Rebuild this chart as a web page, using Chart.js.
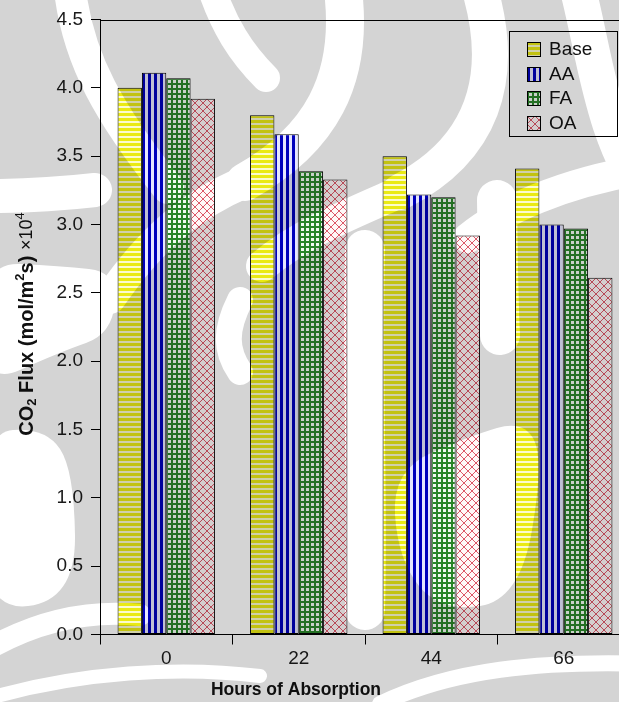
<!DOCTYPE html>
<html>
<head>
<meta charset="utf-8">
<title>CO2 Flux vs Hours of Absorption</title>
<script src="https://cdn.jsdelivr.net/npm/chart.js@4.4.1/dist/chart.umd.min.js"></script>
<style>
  html, body { margin: 0; padding: 0; overflow: hidden; background: #fff; }
  #wrap { position: relative; width: 640px; height: 702px; }
</style>
</head>
<body>
<div id="wrap"><canvas id="chart" width="640" height="702"></canvas></div>
<script>
// ---- data ----
const hours = ['0', '22', '44', '66'];
const seriesNames = ['Base', 'AA', 'FA', 'OA'];
const baseFlux = [4.00, 3.80, 3.50, 3.41];
const aaFlux   = [4.11, 3.66, 3.22, 3.00];
const faFlux   = [4.07, 3.39, 3.20, 2.97];
const oaFlux   = [3.92, 3.33, 2.92, 2.61];
const yTickValues = [0.0, 0.5, 1.0, 1.5, 2.0, 2.5, 3.0, 3.5, 4.0, 4.5];

// ---- fill patterns ----
function tile(w, h, paint) {
  const c = document.createElement('canvas');
  c.width = w; c.height = h;
  paint(c.getContext('2d'), w, h);
  return c;
}
const tiles = {
  Base: tile(6, 5, (g, w, h) => {
    g.fillStyle = '#fbfbcc'; g.fillRect(0, 0, w, h);
    g.fillStyle = '#eaea14'; g.fillRect(0, 0, w, 3);
  }),
  AA: tile(6, 6, (g, w, h) => {
    g.fillStyle = '#e6e6ff'; g.fillRect(0, 0, w, h);
    g.fillStyle = '#0000bc'; g.fillRect(0, 0, 3, h);
  }),
  FA: tile(5, 5, (g, w, h) => {
    g.fillStyle = '#f2fbf2'; g.fillRect(0, 0, w, h);
    g.fillStyle = '#2a862a'; g.fillRect(0, 0, w, 2); g.fillRect(0, 0, 2, h);
  }),
  OA: tile(8, 8, (g, w, h) => {
    g.fillStyle = '#fff8f8'; g.fillRect(0, 0, w, h);
    g.strokeStyle = '#dc5868'; g.lineWidth = 1;
    for (const k of [-8, 0, 8]) {
      g.beginPath(); g.moveTo(k - 1, -1); g.lineTo(k + 9, 9); g.stroke();
      g.beginPath(); g.moveTo(k + 9, -1); g.lineTo(k - 1, 9); g.stroke();
    }
  })
};
const patternCache = {};
function patternFor(name, key, x, y) {
  const ctx2d = document.getElementById('chart').getContext('2d');
  const id = name + '|' + key;
  if (!patternCache[id]) patternCache[id] = ctx2d.createPattern(tiles[name], 'repeat');
  const p = patternCache[id];
  if (isFinite(x) && isFinite(y)) p.setTransform(new DOMMatrix().translate(Math.round(x), Math.round(y)));
  return p;
}
function barFill(name) {
  return (ctx) => {
    const el = ctx.element;
    if (el && isFinite(el.x) && isFinite(el.width)) {
      return patternFor(name, ctx.dataIndex, el.x - el.width / 2, el.y);
    }
    return patternFor(name, ctx.dataIndex, 0, 0);
  };
}

const seriesValues = [baseFlux, aaFlux, faFlux, oaFlux];
const datasets = seriesNames.map((name, i) => ({
  label: name,
  data: seriesValues[i],
  backgroundColor: barFill(name),
  borderColor: '#000',
  borderWidth: 1,
  borderSkipped: false,
  barPercentage: 1.0,
  categoryPercentage: 0.735
}));

// ---- background emblem (faint grey watermark, multiplied over the drawing) ----
// white sweeps cut out of a grey ground
const emblemBands = [
  { w: 32, p: [[70, -10], [78, 60], [110, 115], [168, 188]] },
  { w: 28, p: [[212, -10], [224, 25], [240, 52], [266, 78]] },
  { w: 38, p: [[343, -10], [354, 80], [320, 140], [245, 182]] },
  { w: 32, p: [[245, 182], [190, 205], [150, 240], [110, 298]] },
  { w: 36, p: [[480, -10], [506, 80], [482, 150], [400, 192]] },
  { w: 32, p: [[400, 192], [350, 214], [300, 234], [262, 266]] },
  { w: 36, p: [[578, -10], [596, 60], [602, 140], [652, 205]] },
  { w: 30, p: [[652, 168], [560, 182], [500, 212], [468, 238]] },
  { w: 40, p: [[497, 200], [498, 260], [498, 300], [500, 335]] },
  { w: 34, p: [[-10, 196], [25, 196], [60, 194], [95, 190]] },
  { w: 40, p: [[365, 250], [362, 380], [368, 500], [365, 610]] },
  { w: 22, p: [[-10, 648], [40, 620], [90, 610], [140, 615]] },
  { w: 14, p: [[-10, 698], [80, 672], [180, 666], [260, 676]] },
  { w: 16, p: [[380, 704], [450, 670], [540, 660], [652, 664]] },
  { w: 26, p: [[240, 300], [225, 330], [225, 350], [240, 372]] }
];
// rounded light areas (closed outlines, smoothed through edge midpoints)
const emblemPatches = [
  [[-20, 262], [60, 266], [118, 272], [112, 334], [60, 352], [-20, 388]],
  [[-20, 432], [46, 428], [74, 470], [76, 600], [-20, 612]],
  [[392, 470], [470, 436], [524, 420], [544, 460], [520, 600], [440, 612], [398, 560]]
];
function smoothClosed(g, pts) {
  const n = pts.length;
  const mid = (a, b) => [(a[0] + b[0]) / 2, (a[1] + b[1]) / 2];
  const start = mid(pts[n - 1], pts[0]);
  g.moveTo(start[0], start[1]);
  for (let i = 0; i < n; i++) {
    const m = mid(pts[i], pts[(i + 1) % n]);
    g.quadraticCurveTo(pts[i][0], pts[i][1], m[0], m[1]);
  }
  g.closePath();
}
let emblem = null;
function buildEmblem(w, h) {
  const c = document.createElement('canvas');
  c.width = w; c.height = h;
  const g = c.getContext('2d');
  g.fillStyle = '#d4d4d4';
  g.fillRect(0, 0, w, h);
  g.fillStyle = '#ffffff';
  for (const poly of emblemPatches) {
    g.beginPath();
    smoothClosed(g, poly);
    g.fill();
  }
  g.strokeStyle = '#ffffff';
  g.lineCap = 'round';
  for (const b of emblemBands) {
    g.lineWidth = b.w;
    g.beginPath();
    g.moveTo(b.p[0][0], b.p[0][1]);
    g.bezierCurveTo(b.p[1][0], b.p[1][1], b.p[2][0], b.p[2][1], b.p[3][0], b.p[3][1]);
    g.stroke();
  }
  return c;
}

// ---- decoration plugin: white ground, frame, legend, axis titles, emblem ----
const FONT = '"Liberation Sans", Arial, Helvetica, sans-serif';
const decor = {
  id: 'decor',
  beforeDraw(chart) {
    const { ctx, width, height } = chart;
    ctx.save();
    ctx.fillStyle = '#fff';
    ctx.fillRect(0, 0, width, height);
    ctx.restore();
  },
  afterDatasetsDraw(chart) {
    const { ctx, chartArea: a } = chart;
    ctx.save();
    ctx.strokeStyle = '#000';
    ctx.lineWidth = 1;
    ctx.beginPath();
    ctx.moveTo(a.left, Math.round(a.top) + 0.5);
    ctx.lineTo(a.right, Math.round(a.top) + 0.5);
    ctx.lineTo(a.right, a.bottom);
    ctx.stroke();
    ctx.restore();
  },
  afterDraw(chart) {
    const { ctx, width, height } = chart;
    ctx.save();
    // legend box
    const lx = 509, ly = 31, lw = 108, lh = 105;
    ctx.fillStyle = '#fff';
    ctx.fillRect(lx, ly, lw, lh);
    ctx.strokeStyle = '#000';
    ctx.lineWidth = 1;
    ctx.strokeRect(lx + 0.5, ly + 0.5, lw, lh);
    ctx.font = '19px ' + FONT;
    ctx.textBaseline = 'middle';
    ctx.textAlign = 'left';
    chart.data.datasets.forEach((ds, i) => {
      const cy = ly + 18 + i * 24.6;
      const sx = 527, sy = Math.round(cy - 7);
      ctx.fillStyle = patternFor(ds.label, 'legend', sx, sy);
      ctx.fillRect(sx, sy, 13, 14);
      ctx.strokeStyle = '#000';
      ctx.strokeRect(sx + 0.5, sy + 0.5, 13, 14);
      ctx.fillStyle = '#111';
      ctx.fillText(ds.label, 549, cy + 1);
    });

    // x axis title
    ctx.font = 'bold 17.5px ' + FONT;
    ctx.textAlign = 'center';
    ctx.fillStyle = '#111';
    ctx.fillText('Hours of Absorption', 296, 690);

    // y axis title with sub/superscripts
    ctx.translate(27, 324);
    ctx.rotate(-Math.PI / 2);
    const parts = [
      { t: 'CO', f: 'bold 20px ', dy: 0 },
      { t: '2', f: 'bold 13px ', dy: 5 },
      { t: ' Flux (mol/m', f: 'bold 20px ', dy: 0 },
      { t: '2', f: 'bold 13px ', dy: -7 },
      { t: 's) ', f: 'bold 20px ', dy: 0 },
      { t: '\u00d710', f: '18px ', dy: 0 },
      { t: '4', f: '13px ', dy: -7 }
    ];
    let total = 0;
    for (const p of parts) { ctx.font = p.f + FONT; total += ctx.measureText(p.t).width; }
    let x = -total / 2;
    ctx.textAlign = 'left';
    ctx.textBaseline = 'middle';
    for (const p of parts) {
      ctx.font = p.f + FONT;
      ctx.fillText(p.t, x, p.dy);
      x += ctx.measureText(p.t).width;
    }
    ctx.restore();

    // emblem multiplied over everything
    if (!emblem) emblem = buildEmblem(width, height);
    ctx.save();
    ctx.globalCompositeOperation = 'multiply';
    ctx.drawImage(emblem, 0, 0);
    ctx.restore();
  }
};

const chart = new Chart(document.getElementById('chart'), {
  type: 'bar',
  data: { labels: hours, datasets },
  options: {
    responsive: false,
    animation: false,
    devicePixelRatio: 1,
    layout: { padding: { top: 19.5, right: 10, left: 0, bottom: 0 } },
    plugins: { legend: { display: false }, tooltip: { enabled: false } },
    scales: {
      x: {
        grid: { drawOnChartArea: false, offset: true, tickLength: 10, color: '#000' },
        border: { color: '#000', width: 1 },
        ticks: { color: '#1a1a1a', font: { family: FONT, size: 19 }, padding: 3 },
        afterFit: (s) => { s.height = 67.5; }
      },
      y: {
        min: 0,
        max: 4.5,
        afterBuildTicks: (s) => { s.ticks = yTickValues.map(v => ({ value: v })); },
        grid: { drawOnChartArea: false, tickLength: 9, color: '#000' },
        border: { color: '#000', width: 1 },
        ticks: {
          color: '#1a1a1a',
          font: { family: FONT, size: 19 },
          padding: 8,
          callback: (v) => Number(v).toFixed(1)
        },
        afterFit: (s) => { s.width = 100; }
      }
    }
  },
  plugins: [decor]
});
// second pass so each bar's pattern is anchored to its own position
chart.update('none');
</script>
</body>
</html>
